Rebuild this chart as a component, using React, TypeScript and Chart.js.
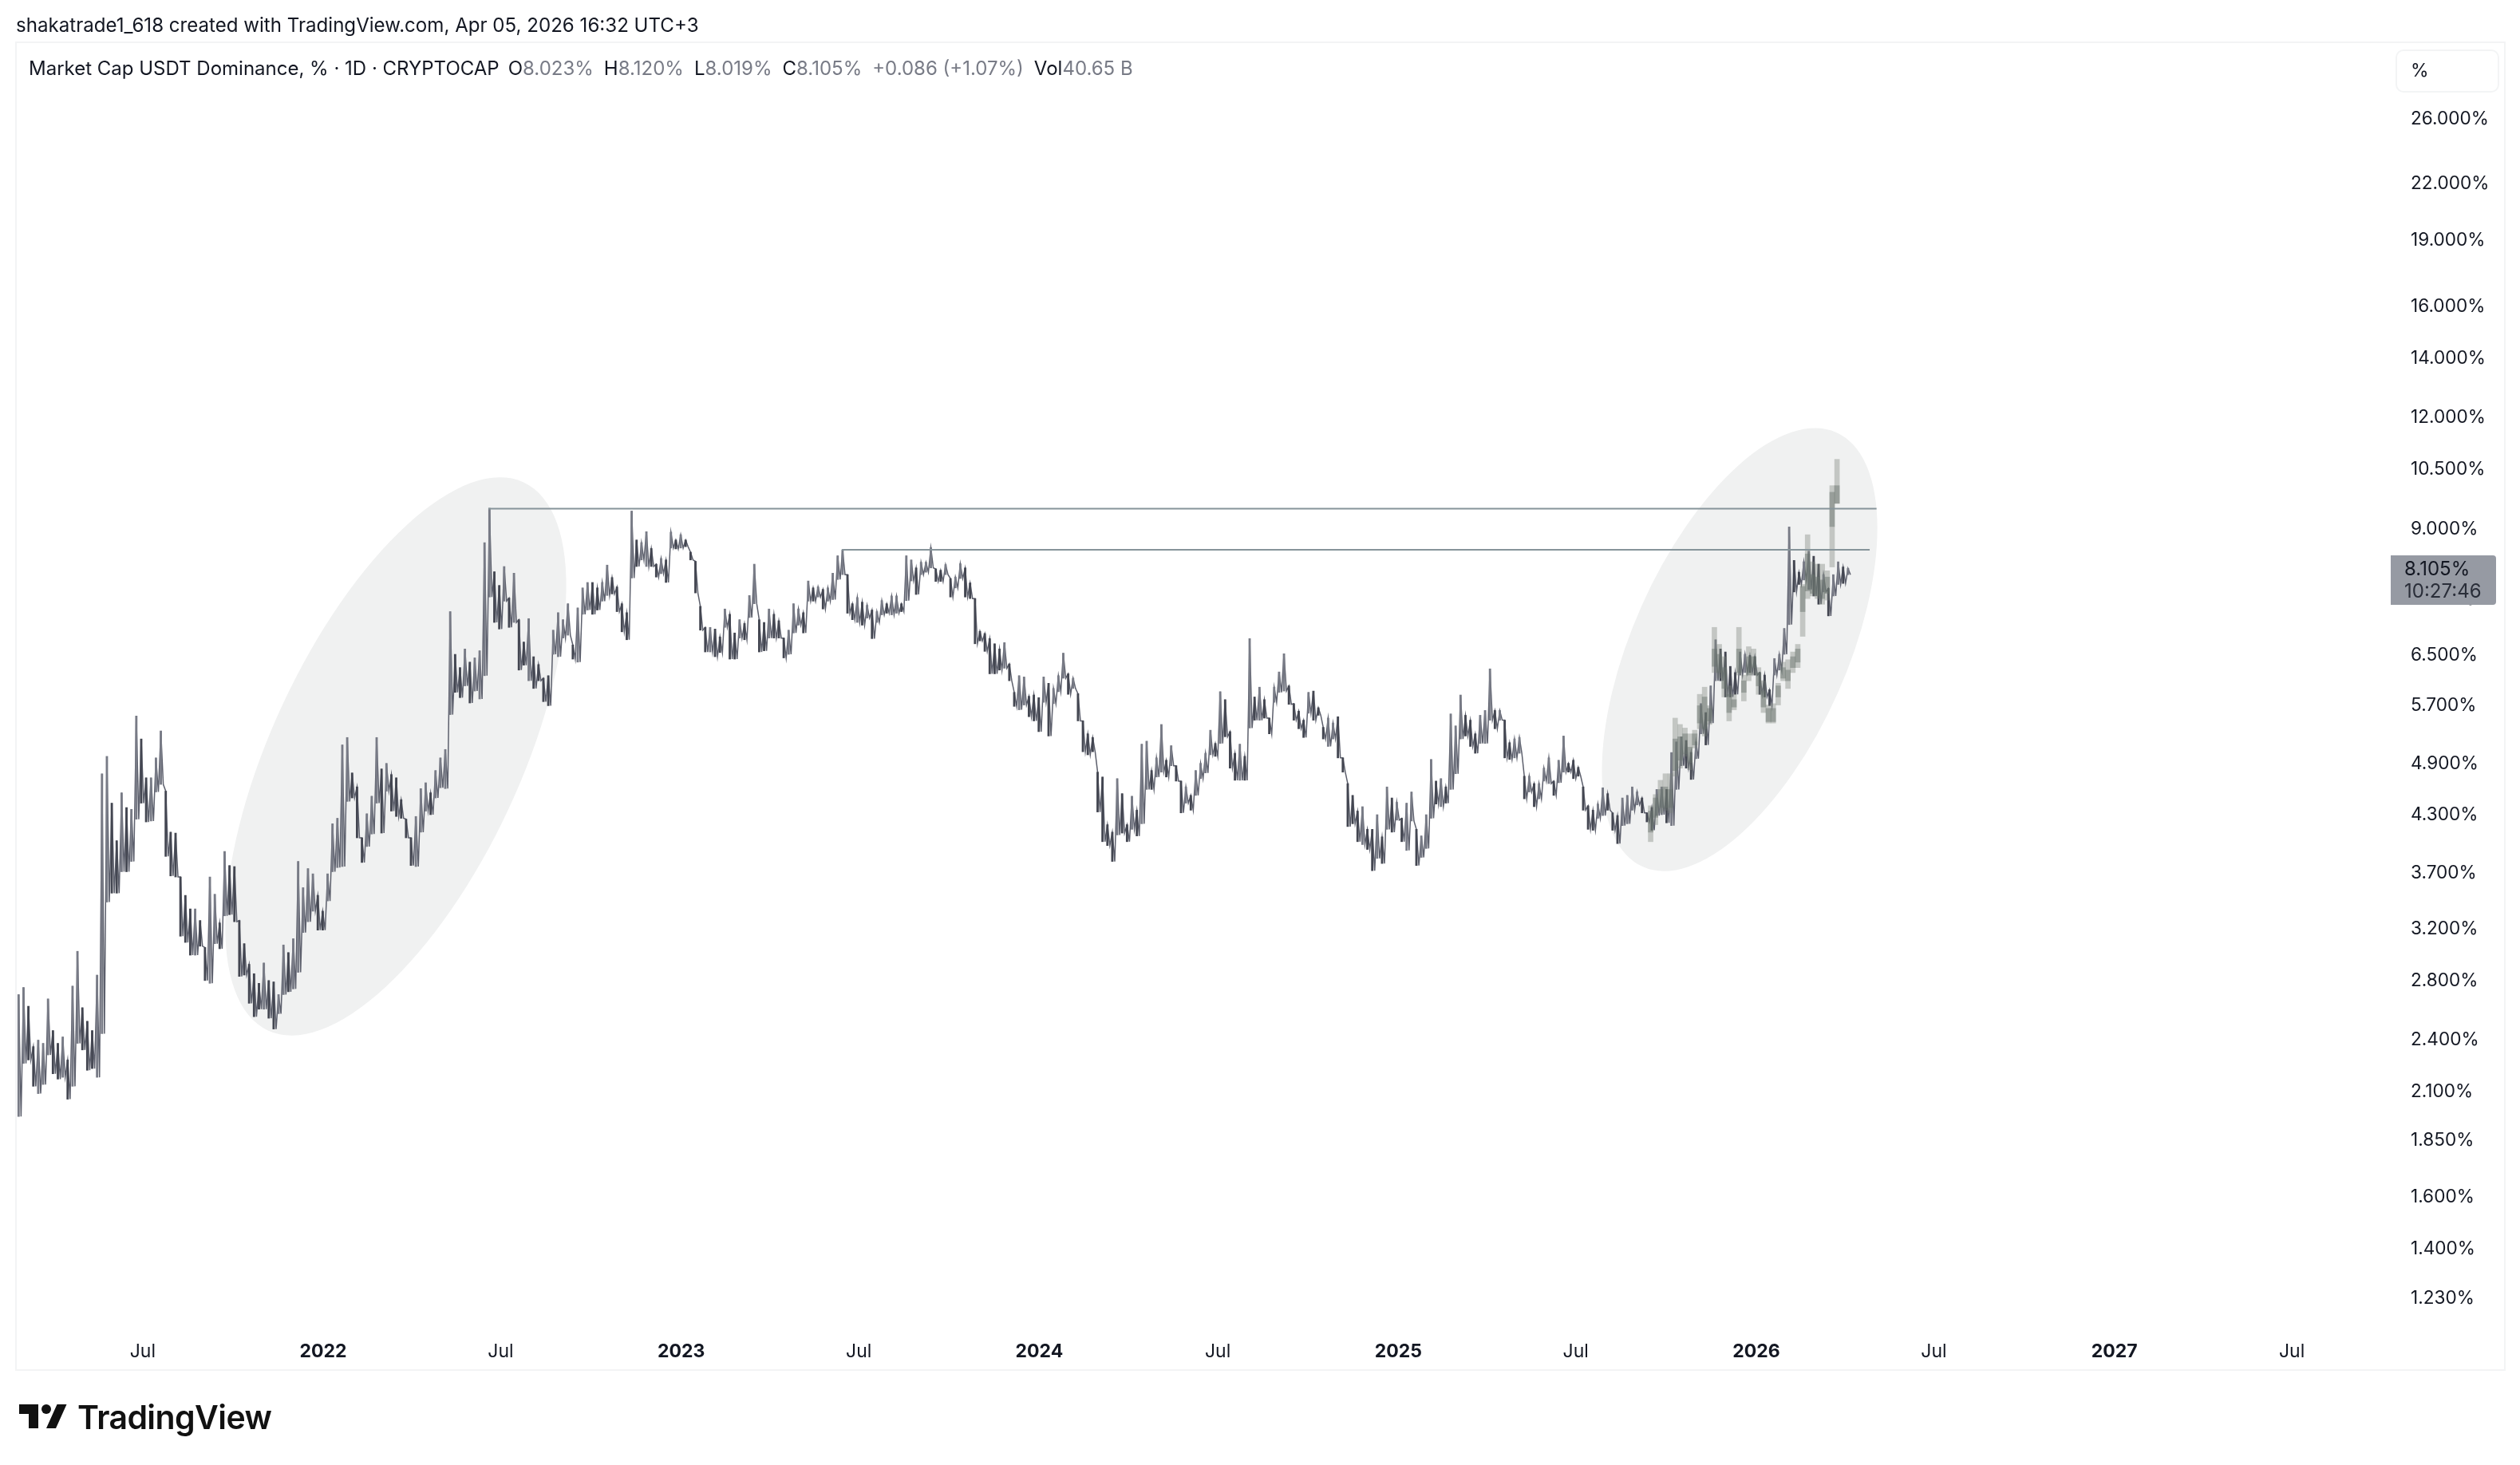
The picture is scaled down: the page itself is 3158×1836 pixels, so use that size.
import { useEffect, useRef } from "react";
import { Chart, registerables } from "chart.js";

Chart.register(...registerables);

const FONT = "Inter, 'Noto Sans', sans-serif";

// x axis is days counted from 2022-01-01
const xMinDay = -313.2;
const xMaxDay = 2102.9;
const timeTickDays = [-184, 0, 181, 365, 546, 730, 912, 1096, 1277, 1461, 1642, 1826, 2007];
const timeTickLabels = ["Jul", "2022", "Jul", "2023", "Jul", "2024", "Jul", "2025", "Jul", "2026", "Jul", "2027", "Jul"];

const priceMin = 1.162;
const priceMax = 31.57;
const priceTicks = [26, 22, 19, 16, 14, 12, 10.5, 9, 7.5, 6.5, 5.7, 4.9, 4.3, 3.7, 3.2, 2.8, 2.4, 2.1, 1.85, 1.6, 1.4, 1.23];

// [high, low] in %, one entry every 5 days
const candleStartDay = -310.5;
const candleStepDays = 5;
const candleRanges: [number, number][] = [
  [2.70, 1.97], [2.75, 2.26], [2.62, 2.28], [2.36, 2.13], [2.40, 2.09], [2.38, 2.14], [2.67, 2.31], [2.46, 2.20], [2.38, 2.17], [2.42, 2.18],
  [2.28, 2.06], [2.76, 2.13], [3.02, 2.38], [2.61, 2.34], [2.52, 2.22], [2.46, 2.23], [2.84, 2.18], [4.78, 2.44], [5.00, 3.43], [4.43, 3.51],
  [4.02, 3.51], [4.55, 3.71], [4.38, 3.71], [4.36, 3.81], [5.55, 4.25], [5.23, 4.43], [4.73, 4.22], [4.73, 4.23], [4.98, 4.56], [5.34, 4.65],
  [4.57, 3.86], [4.11, 3.67], [4.10, 3.66], [3.66, 3.14], [3.49, 3.09], [3.37, 2.99], [3.37, 2.99], [3.27, 3.06], [3.05, 2.80], [3.66, 2.78],
  [3.50, 3.08], [3.25, 3.04], [3.91, 3.31], [3.77, 3.32], [3.76, 3.26], [3.27, 2.83], [3.08, 2.84], [2.92, 2.64], [2.85, 2.55], [2.78, 2.60],
  [2.93, 2.60], [2.80, 2.54], [2.79, 2.47], [2.70, 2.57], [3.07, 2.70], [3.01, 2.72], [3.12, 2.74], [3.81, 2.86], [3.56, 3.17], [3.74, 3.26],
  [3.69, 3.35], [3.49, 3.19], [3.35, 3.19], [3.69, 3.44], [4.20, 3.71], [4.26, 3.75], [5.15, 3.76], [5.25, 4.45], [4.79, 4.49], [4.62, 4.05],
  [4.05, 3.80], [4.31, 3.96], [4.51, 4.09], [5.25, 4.43], [4.84, 4.10], [4.91, 4.57], [4.77, 4.34], [4.73, 4.28], [4.47, 4.26], [4.25, 4.05],
  [4.05, 3.77], [4.28, 3.76], [4.60, 4.11], [4.67, 4.34], [4.55, 4.30],
  [4.82, 4.49], [4.98, 4.61], [5.09, 4.60], [7.27, 5.57], [6.51, 5.90], [6.29, 5.82], [6.60, 6.00], [6.38, 5.74], [6.45, 5.92], [6.57, 5.80],
  [8.69, 6.16], [9.50, 7.55], [8.06, 7.07], [7.78, 6.95], [8.17, 7.47], [7.53, 6.98], [8.03, 7.07], [7.12, 6.25], [6.72, 6.33], [7.14, 6.08],
  [6.47, 5.96], [6.34, 6.08], [6.12, 5.76], [6.16, 5.70], [6.93, 6.51], [7.25, 6.47], [7.12, 6.79], [7.42, 6.84], [6.67, 6.43], [7.34, 6.38],
  [7.73, 7.22], [7.84, 7.30], [7.84, 7.22], [7.73, 7.30], [7.84, 7.47], [8.20, 7.58], [7.94, 7.61], [7.75, 7.27], [7.42, 6.90], [7.25, 6.76],
  [9.43, 7.93],
  [8.75, 8.17], [8.69, 8.31], [8.94, 8.17], [8.56, 8.17], [8.22, 7.95], [8.34, 8.02], [8.31, 7.84], [8.93, 8.57], [8.75, 8.55], [8.87, 8.57],
  [8.75, 8.60], [8.48, 8.31], [8.28, 7.63], [7.37, 6.93], [6.98, 6.55], [6.98, 6.55], [6.95, 6.47], [6.81, 6.54], [7.32, 6.98], [7.22, 6.43],
  [6.88, 6.43], [7.12, 6.79], [7.05, 6.76], [7.58, 7.16], [8.22, 7.42], [7.12, 6.55], [7.07, 6.57], [7.32, 6.79], [7.22, 6.79], [7.10, 6.79],
  [6.79, 6.45], [6.93, 6.51], [7.42, 6.88], [7.32, 7.02], [7.25, 6.88], [7.87, 7.47], [7.73, 7.47], [7.75, 7.55], [7.70, 7.32], [7.73, 7.47],
  [8.03, 7.50], [8.40, 7.90], [8.53, 8.00],
  [8.00, 7.24], [7.42, 7.12], [7.54, 7.07], [7.45, 7.02], [7.39, 7.15], [7.30, 6.78], [7.27, 7.07], [7.48, 7.21], [7.42, 7.24], [7.57, 7.21],
  [7.57, 7.24], [7.42, 7.27], [8.40, 7.48], [8.31, 7.87], [8.14, 7.60], [8.26, 8.00], [8.26, 8.05], [8.58, 8.14], [8.12, 7.86], [8.09, 7.86],
  [8.21, 8.00], [7.92, 7.55], [7.95, 7.73], [8.23, 7.92], [8.14, 7.55], [7.83, 7.52], [7.52, 6.69], [6.91, 6.74], [6.87, 6.56], [6.78, 6.19],
  [6.69, 6.19], [6.60, 6.25], [6.71, 6.28], [6.35, 6.08], [5.90, 5.69], [6.16, 5.64], [6.14, 5.71], [5.84, 5.54], [5.86, 5.48], [5.82, 5.33],
  [6.14, 5.75], [6.04, 5.27], [5.96, 5.73], [6.16, 5.91], [6.53, 6.12], [6.19, 5.87], [6.12, 5.96], [5.88, 5.48], [5.48, 5.06], [5.30, 5.02],
  [5.25, 5.06], [4.80, 4.33], [4.74, 4.01], [4.19, 3.97], [4.11, 3.81], [4.72, 4.08], [4.54, 4.10], [4.19, 4.01], [4.51, 4.14], [4.35, 4.07],
  [5.16, 4.20], [5.20, 4.59], [4.82, 4.59], [4.98, 4.74], [5.43, 4.80], [4.95, 4.74], [5.14, 4.88], [4.88, 4.69], [4.69, 4.32], [4.62, 4.43],
  [4.52, 4.35], [4.82, 4.52], [4.91, 4.72], [5.04, 4.79], [5.35, 5.02], [5.17, 5.00], [5.91, 5.17], [5.79, 5.26], [5.33, 4.85], [5.04, 4.70],
  [5.16, 4.70], [5.00, 4.70], [6.78, 5.38],
  [5.83, 5.49], [5.98, 5.49], [5.79, 5.52], [5.52, 5.30], [5.98, 5.75], [6.22, 5.90], [6.52, 5.92], [6.00, 5.72], [5.73, 5.49], [5.62, 5.37],
  [5.49, 5.25], [5.90, 5.59], [5.92, 5.49], [5.67, 5.56], [5.39, 5.23], [5.52, 5.13], [5.45, 5.23], [5.54, 4.98], [4.98, 4.80], [4.66, 4.17],
  [4.52, 4.20], [4.34, 4.01], [4.39, 3.98], [4.14, 3.93], [4.14, 3.72], [4.30, 3.84], [4.06, 3.79], [4.62, 4.14], [4.49, 4.11], [4.44, 4.24],
  [4.26, 4.01], [4.43, 3.92], [4.56, 4.23], [4.14, 3.77], [4.07, 3.85], [4.30, 3.94], [4.96, 4.26], [4.69, 4.42], [4.72, 4.39], [4.62, 4.43],
  [5.58, 4.59], [5.41, 4.78], [5.86, 5.23], [5.56, 5.27], [5.49, 5.13], [5.30, 5.04], [5.56, 5.17], [5.63, 5.17], [6.27, 5.49], [5.63, 5.37],
  [5.63, 5.49], [5.49, 4.98], [5.18, 4.96], [5.23, 4.98], [5.25, 5.04], [4.75, 4.48], [4.75, 4.56], [4.66, 4.39], [4.66, 4.48], [4.85, 4.69],
  [4.98, 4.66], [4.69, 4.52], [4.95, 4.67], [5.27, 4.80], [4.91, 4.80], [4.95, 4.72], [4.86, 4.75], [4.62, 4.35], [4.40, 4.14], [4.35, 4.13],
  [4.42, 4.26], [4.61, 4.29], [4.54, 4.35], [4.32, 4.13], [4.29, 3.99], [4.49, 4.18], [4.52, 4.20], [4.62, 4.35], [4.56, 4.41], [4.49, 4.32],
  [4.32, 4.22], [4.38, 4.13], [4.59, 4.29],
  [4.62, 4.30], [4.59, 4.21], [5.05, 4.18], [5.19, 4.59], [5.26, 4.88], [5.21, 4.85], [5.05, 4.71], [5.19, 4.97], [5.73, 5.30], [5.60, 5.15],
  [6.00, 5.45], [6.76, 6.08], [6.60, 6.08], [6.55, 5.83], [6.31, 5.83], [6.21, 5.87], [6.55, 6.17], [6.51, 6.21], [6.49, 6.21], [6.47, 6.17],
  [6.21, 5.87], [6.17, 5.83], [5.94, 5.70], [6.44, 6.17], [6.51, 6.25], [6.96, 6.51], [9.05, 7.03], [8.30, 7.65], [8.05, 7.80], [8.27, 7.89],
  [8.50, 7.70], [8.39, 7.57], [8.22, 7.41], [8.00, 7.65], [7.72, 7.19], [8.00, 7.57], [8.27, 7.80], [8.16, 7.82], [8.13, 8.00],
];

// the pale pasted pattern over the last leg, [high, low] in %
const patternStartDay = 1353.3;
const patternStepDays = 5;
const patternWicks: [number, number][] = [
  [4.40, 4.01], [4.53, 4.19], [4.70, 4.32], [4.78, 4.35], [4.78, 4.32], [5.52, 4.75], [5.43, 4.85], [5.38, 5.00], [5.30, 4.83], [5.35, 5.11],
  [5.87, 5.37], [5.98, 5.27], [5.70, 5.43], [6.98, 6.21], [6.68, 6.12], [6.47, 5.83], [6.00, 5.48], [5.87, 5.64], [6.98, 6.17], [6.17, 5.77],
  [6.64, 6.08], [6.60, 6.17], [6.29, 5.87], [6.08, 5.60], [5.71, 5.45], [5.73, 5.45], [6.04, 5.71], [6.38, 6.08], [6.42, 5.96], [6.55, 6.21],
  [6.68, 6.29], [7.80, 6.82], [8.87, 7.52], [8.27, 7.57], [8.22, 7.52], [8.22, 7.41], [8.08, 7.49], [10.07, 8.16], [10.78, 9.62],
];
const patternBodies: [number, number][] = [
  [4.34, 4.11], [4.49, 4.27], [4.59, 4.38], [4.62, 4.38], [4.59, 4.38], [5.23, 4.82], [5.26, 4.95], [5.30, 5.03], [5.12, 4.92], [5.30, 5.15],
  [5.70, 5.45], [5.83, 5.37], [5.66, 5.48], [6.60, 6.31], [6.51, 6.21], [6.29, 5.96], [5.87, 5.60], [5.79, 5.68], [6.60, 6.21], [6.08, 5.90],
  [6.47, 6.17], [6.47, 6.29], [6.21, 6.00], [5.92, 5.68], [5.66, 5.47], [5.66, 5.47], [6.00, 5.83], [6.29, 6.12], [6.25, 6.08], [6.47, 6.29],
  [6.60, 6.38], [7.76, 7.27], [8.44, 7.67], [8.00, 7.62], [7.95, 7.57], [7.89, 7.52], [7.95, 7.62], [9.90, 9.06], [10.07, 9.62],
];

// horizontal levels: [start day, end day, %]
const upperLevel = [168.4, 1583.6, 9.49];
const lowerLevel = [528.8, 1576.6, 8.53];

const trendEllipses = [
  { day: 74, pct: 5.0, rx: 379, ry: 156, tilt: -65 },
  { day: 1444, pct: 6.59, rx: 298, ry: 134.5, tilt: -66 },
];

const legendParts: [string, boolean][] = [
  ["Market Cap USDT Dominance, % · 1D · CRYPTOCAP", true],
  ["O", true], ["8.023%", false], ["H", true], ["8.120%", false], ["L", true], ["8.019%", false],
  ["C", true], ["8.105%", false], ["+0.086 (+1.07%)", false], ["Vol", true], ["40.65 B", false],
];

const ellipsePlugin = {
  id: "trendEllipses",
  beforeDatasetsDraw(chart: any) {
    const { ctx, scales } = chart;
    ctx.save();
    ctx.fillStyle = "#f0f1f1";
    trendEllipses.forEach(e => {
      ctx.beginPath();
      ctx.ellipse(scales.x.getPixelForValue(e.day), scales.y.getPixelForValue(e.pct), e.rx, e.ry, (e.tilt * Math.PI) / 180, 0, Math.PI * 2);
      ctx.fill();
    });
    ctx.restore();
  },
};

const toBars = (ranges: [number, number][], start: number, step: number) =>
  ranges.map(([high, low], i) => ({ x: start + i * step, y: [low, high] }));

// same readings walked high, low, high, low so the gaps between bars close up
const candleTrace = candleRanges.flatMap(([high, low], i) => [
  { x: candleStartDay + i * candleStepDays, y: high },
  { x: candleStartDay + (i + 0.5) * candleStepDays, y: low },
]);

// falling stretches print dark, rising ones grey
const candleColors = candleRanges.map(([high, low], i) => {
  if (i === 0) return "#787b86";
  const prev = candleRanges[i - 1];
  return high + low < prev[0] + prev[1] ? "#434651" : "#787b86";
});

const absolute = (left: number, top: number, extra: React.CSSProperties = {}): React.CSSProperties => ({
  position: "absolute",
  left,
  top,
  whiteSpace: "nowrap",
  fontFamily: FONT,
  ...extra,
});

export default function App() {
  const canvasRef = useRef<HTMLCanvasElement | null>(null);

  useEffect(() => {
    if (!canvasRef.current) return;
    const chart = new Chart(canvasRef.current, {
      type: "bar",
      data: {
        datasets: [
          {
            type: "line",
            label: "USDT.D trace",
            data: candleTrace,
            borderColor: "#5c5f6c",
            borderWidth: 1.5,
            pointRadius: 0,
            tension: 0,
            order: 5,
          },
          {
            label: "USDT.D",
            data: toBars(candleRanges, candleStartDay, candleStepDays),
            backgroundColor: candleColors,
            barThickness: 2.2,
            grouped: false,
            order: 4,
          },
          {
            label: "Pattern wicks",
            data: toBars(patternWicks, patternStartDay, patternStepDays),
            backgroundColor: "rgba(120,130,122,0.38)",
            barThickness: 6,
            grouped: false,
            order: 3,
          },
          {
            label: "Pattern bodies",
            data: toBars(patternBodies, patternStartDay, patternStepDays),
            backgroundColor: "rgba(105,115,108,0.48)",
            barThickness: 6,
            grouped: false,
            order: 2,
          },
          {
            type: "line",
            label: "Upper level",
            data: [{ x: upperLevel[0], y: upperLevel[2] }, { x: upperLevel[1], y: upperLevel[2] }],
            borderColor: "#86949a",
            borderWidth: 2,
            pointRadius: 0,
            order: 1,
          },
          {
            type: "line",
            label: "Lower level",
            data: [{ x: lowerLevel[0], y: lowerLevel[2] }, { x: lowerLevel[1], y: lowerLevel[2] }],
            borderColor: "#86949a",
            borderWidth: 2,
            pointRadius: 0,
            order: 1,
          },
        ] as any,
      },
      options: {
        responsive: false,
        animation: false,
        devicePixelRatio: 1,
        layout: { padding: { left: 20, top: 55, right: 0, bottom: 119 } },
        scales: {
          x: {
            type: "linear",
            offset: false,
            min: xMinDay,
            max: xMaxDay,
            grid: { display: false },
            border: { display: false },
            afterFit: (axis: any) => { axis.height = 62; },
            afterBuildTicks: (axis: any) => { axis.ticks = timeTickDays.map(value => ({ value })); },
            ticks: {
              autoSkip: false,
              maxRotation: 0,
              padding: 17,
              color: "#131722",
              font: (c: any) => {
                const label = timeTickLabels[timeTickDays.indexOf(c.tick?.value)];
                return { family: FONT, size: 23, weight: label === "Jul" ? "400" : "700" };
              },
              callback: (v: any) => timeTickLabels[timeTickDays.indexOf(v)],
            },
          },
          y: {
            type: "logarithmic",
            position: "right",
            min: priceMin,
            max: priceMax,
            grid: { display: false },
            border: { display: false },
            afterFit: (axis: any) => { axis.width = 168; },
            afterBuildTicks: (axis: any) => { axis.ticks = priceTicks.map(value => ({ value })); },
            ticks: {
              autoSkip: false,
              padding: 23,
              color: "#131722",
              font: { family: FONT, size: 22.6 },
              callback: (v: any) => `${Number(v).toFixed(3)}%`,
            },
          },
        },
        plugins: {
          legend: { display: false },
          title: { display: false },
          tooltip: { enabled: false },
        },
      },
      plugins: [ellipsePlugin],
    } as any);
    return () => chart.destroy();
  }, []);

  return (
    <div style={{ position: "absolute", left: 0, top: 0, width: 3158, height: 1836, overflow: "hidden", background: "#fff" }}>
      <canvas ref={canvasRef} width={3158} height={1836} style={{ position: "absolute", left: 0, top: 0, width: 3158, height: 1836 }} />
      <div style={{ position: "absolute", left: 19, top: 52, width: 3117, height: 1662, border: "2px solid #f3f4f5" }} />
      <div style={absolute(20, 18, { fontSize: 24.1, lineHeight: "28px", color: "#131722" })}>
        shakatrade1_618 created with TradingView.com, Apr 05, 2026 16:32 UTC+3
      </div>
      <div style={absolute(36, 72, { fontSize: 24, lineHeight: "28px" })}>
        {legendParts.map(([text, dark], i) => (
          <span key={i} style={{ color: dark ? "#131722" : "#787b86", marginRight: i === 0 ? 11 : !dark && i < 11 ? 13 : 0 }}>{text}</span>
        ))}
      </div>
      <div style={{ position: "absolute", left: 3002, top: 62, width: 126, height: 50, border: "2px solid #f3f4f5", borderRadius: 10, background: "#fff" }} />
      <div style={absolute(3021, 74, { fontSize: 23, lineHeight: "28px", color: "#131722" })}>%</div>
      <div style={{ position: "absolute", left: 2996, top: 696, width: 132, height: 62, background: "#969aa3", borderRadius: "0 4px 4px 0" }} />
      <div style={absolute(3013, 699, { fontSize: 24, lineHeight: "28px", color: "#131722" })}>8.105%</div>
      <div style={absolute(3013, 727, { fontSize: 24, lineHeight: "28px", color: "#2a2e39" })}>10:27:46</div>
      <svg style={{ position: "absolute", left: 24, top: 1759 }} width={62} height={33} viewBox="0 0 62 33">
        <path d="M0 1H24V31H12V13H0Z M47.5 1H59.5L46 31H34Z" fill="#111" />
        <circle cx={34} cy={7} r={6} fill="#111" />
      </svg>
      <div style={absolute(97, 1751, { fontSize: 41, lineHeight: "50px", fontWeight: 600, color: "#111", letterSpacing: -0.6 })}>TradingView</div>
    </div>
  );
}
